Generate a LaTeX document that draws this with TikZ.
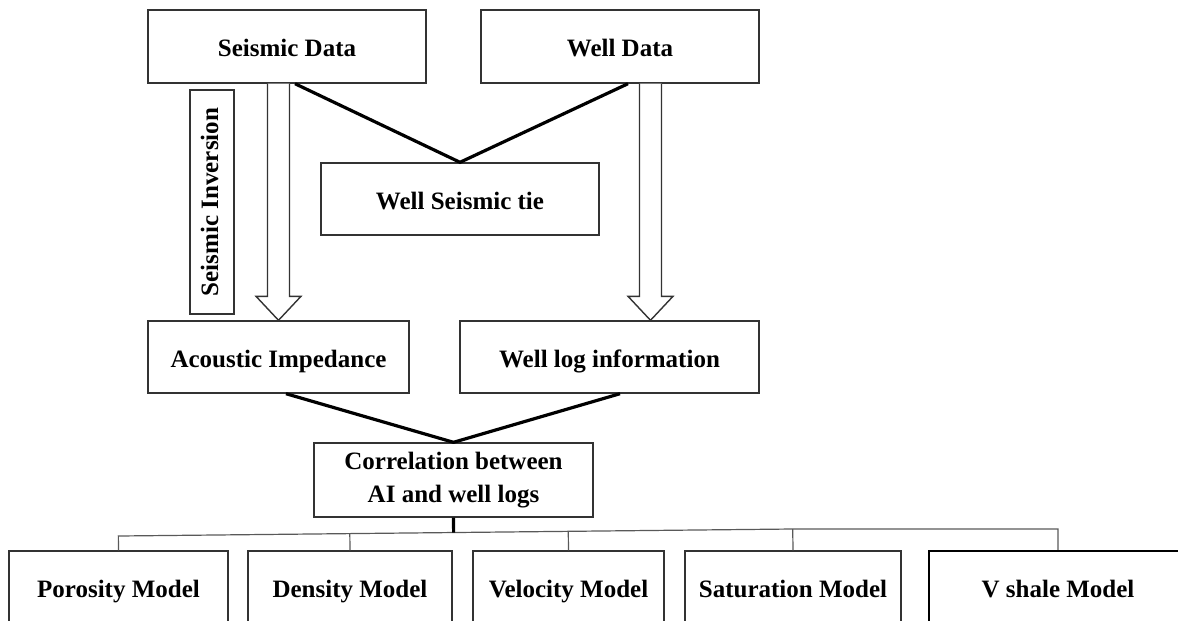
\documentclass[tikz,border=0pt]{standalone}
\usepackage{fontspec}
\setmainfont{Liberation Serif}
\usetikzlibrary{calc}

\tikzset{
  box/.style={draw=black!80, line width=0.7pt, fill=white, inner sep=0pt,
    align=center, font=\fontsize{12.5}{16.5}\selectfont\bfseries},
  oneline/.style={text height=12.8pt, text depth=2.8pt},
  heavybox/.style={line width=1.2pt, draw=black},
  link/.style={line width=1.6pt, black},
  branch/.style={line width=0.6pt, black!65},
  stem/.style={line width=1.6pt, black},
  hollow/.style={draw=black!80, line width=0.7pt, fill=white},
}

% box given by its corners (in pixel units of the picture)
\newcommand{\flowbox}[7]{%
  \pgfmathsetmacro\fbw{(#5-#3)*0.5}%
  \pgfmathsetmacro\fbh{(#6-#4)*0.5}%
  \node[box,#1,minimum width=\fbw pt,minimum height=\fbh pt] (#2)
    at ({(#3+#5)/2},{(#4+#6)/2}) {#7};%
}

% open (outlined) downward arrow from #1 to #2
\newcommand{\hollowarrow}[2]{%
  \draw[hollow] let \p1=(#1), \p2=(#2) in
    (\x1-5.5pt,\y1) -- (\x1-5.5pt,\y2+12pt) -- (\x1-11.25pt,\y2+12pt)
    -- (\x1,\y2) -- (\x1+11.25pt,\y2+12pt) -- (\x1+5.5pt,\y2+12pt)
    -- (\x1+5.5pt,\y1);%
}

\begin{document}
\begin{tikzpicture}[x=0.5pt,y=-0.5pt]
\useasboundingbox (0,0) rectangle (1178,621);
\clip (0,0) rectangle (1178,621);

% upper part
\flowbox{oneline}{seis}{148}{10}{426}{83}{Seismic Data}
\flowbox{oneline}{well}{481}{10}{759}{83}{Well Data}
\flowbox{oneline}{tie}{321}{163}{599}{235}{Well Seismic tie}
\node[box, text height=8.8pt, text depth=2.8pt, rotate=90,
  minimum width=112pt, minimum height=22pt] (inv)
  at (212,202) {Seismic Inversion};
\flowbox{oneline}{ai}{148}{321}{409}{393}{Acoustic Impedance}
\flowbox{oneline}{wlog}{460}{321}{759}{393}{Well log information}
\flowbox{}{corr}{314}{443}{593}{517}{Correlation between\\AI and well logs}

% model boxes (running past the lower edge)
\flowbox{oneline}{poro}{9}{551}{228}{623}{Porosity Model}
\flowbox{oneline}{dens}{248}{551}{452}{623}{Density Model}
\flowbox{oneline}{velo}{473}{551}{664}{623}{Velocity Model}
\flowbox{oneline}{satu}{685}{551}{901}{623}{Saturation Model}
\flowbox{oneline,heavybox}{vsh}{929}{551}{1187}{623}{V shale Model}

% well seismic tie
\draw[link] ($(seis.south)+(8,0)$) -- (tie.north) -- ($(well.south)+(8,0)$);

% seismic inversion and well logs
\coordinate (invtop) at (ai.north |- seis.south);
\hollowarrow{invtop}{ai.north}
\coordinate (logtop) at ($(well.south)+(30.5,0)$);
\coordinate (logtip) at (logtop |- wlog.north);
\hollowarrow{logtop}{logtip}

% correlation
\draw[link] ($(ai.south)+(7.5,0)$) -- (corr.north) -- ($(wlog.south)+(10.5,0)$);

% branching to the models
\coordinate (bl) at (119,536);
\coordinate (br) at (793,529);
\coordinate (bv) at (vsh.north |- br);
\draw[branch] (poro.north) -- ($(bl)!(poro.north)!(br)$) -- (br) -- (bv) -- (vsh.north);
\draw[branch] (dens.north) -- ($(bl)!(dens.north)!(br)$);
\draw[branch] (velo.north) -- ($(bl)!(velo.north)!(br)$);
\draw[branch] (satu.north) -- ($(bl)!(satu.north)!(br)$);
\draw[stem] (corr.south) -- ($(bl)!(corr.south)!(br)$);
\end{tikzpicture}
\end{document}
